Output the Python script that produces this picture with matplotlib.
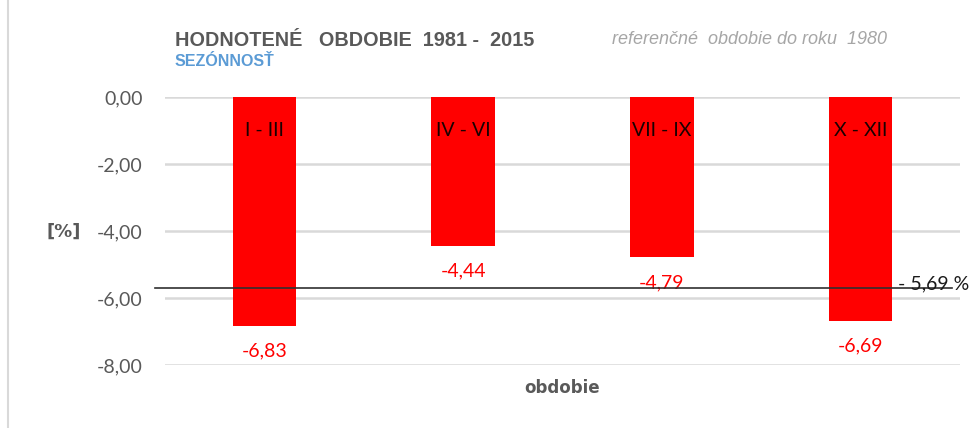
import numpy as np
import matplotlib.pyplot as plt
from matplotlib.lines import Line2D
from matplotlib.ticker import FuncFormatter

# sezónne odchýlky zrážok voči referenčnému obdobiu
obdobia = ['I - III', 'IV - VI', 'VII - IX', 'X - XII']
odchylky = [-6.83, -4.44, -4.79, -6.69]
priemer = round(float(np.mean(odchylky)), 2)

def ciarka(v, _=None):
    return f'{v:.2f}'.replace('.', ',')

plt.rcParams['font.family'] = ['Lato', 'DejaVu Sans']

fig = plt.figure(figsize=(9.77, 4.28), dpi=100)
ax = fig.add_axes([0.1689, 0.1472, 0.8137, 0.6262])

x = np.arange(len(obdobia))
bars = ax.bar(x, odchylky, width=0.32, color='#ff0000', zorder=2)

ax.set_ylim(-8, 0)
ax.set_xlim(-0.5, len(obdobia) - 0.5)
ax.set_yticks([0, -2, -4, -6, -8])
ax.yaxis.set_major_formatter(FuncFormatter(ciarka))
ax.tick_params(axis='y', length=0, pad=16, labelsize=14, labelcolor='#595959')
ax.set_xticks([])
ax.grid(axis='y', color='#d9d9d9', linewidth=1.8, zorder=0)
for s in ax.spines.values():
    s.set_visible(False)

for xi, v, nazov in zip(x, odchylky, obdobia):
    ax.text(xi, -1.0, nazov, ha='center', va='center', fontsize=14,
            color='#1a0000', zorder=3)
    ax.text(xi, v - 0.75, ciarka(v), ha='center', va='center', fontsize=14,
            color='#ff0000')

# priemerná hodnota všetkých období
ax.axhline(priemer, xmin=-0.0125, xmax=0.99, color='#303030', linewidth=1.2,
           zorder=4, clip_on=False)
ax.text(3.19, priemer + 0.1, '- ' + ciarka(abs(priemer)) + ' %', ha='left',
        va='center', fontsize=14, color='#1a1a1a', zorder=5)

ax.set_ylabel('[%]', rotation=0, fontsize=13, fontweight='bold',
              color='#595959', family='DejaVu Sans', ha='center', va='center')
ax.yaxis.set_label_coords(-0.128, 0.496)
ax.text(0.5, -0.085, 'obdobie', transform=ax.transAxes, ha='center',
        va='center', fontsize=12, fontweight='bold', color='#595959',
        family='DejaVu Sans')

fig.text(175 / 977, 1 - 40 / 428, 'HODNOTENÉ   OBDOBIE  1981 -  2015',
         fontsize=14.3, fontweight='bold', color='#595959', va='center',
         family=['Liberation Sans Narrow', 'Liberation Sans'])
fig.text(175 / 977, 1 - 61 / 428, 'SEZÓNNOSŤ', fontsize=11.5,
         fontweight='bold', color='#5b9bd5', va='center',
         family=['Liberation Sans Narrow', 'Liberation Sans'])
fig.text(612 / 977, 1 - 40 / 428, 'referenčné  obdobie do roku  1980',
         fontsize=13, style='italic', color='#a6a6a6', va='center',
         family=['Liberation Sans Narrow', 'Liberation Sans'])

fig.add_artist(Line2D([8 / 977, 8 / 977], [0, 1], transform=fig.transFigure,
                      color='#d9d9d9', linewidth=1.5))

fig.savefig('out.png', dpi=100)
